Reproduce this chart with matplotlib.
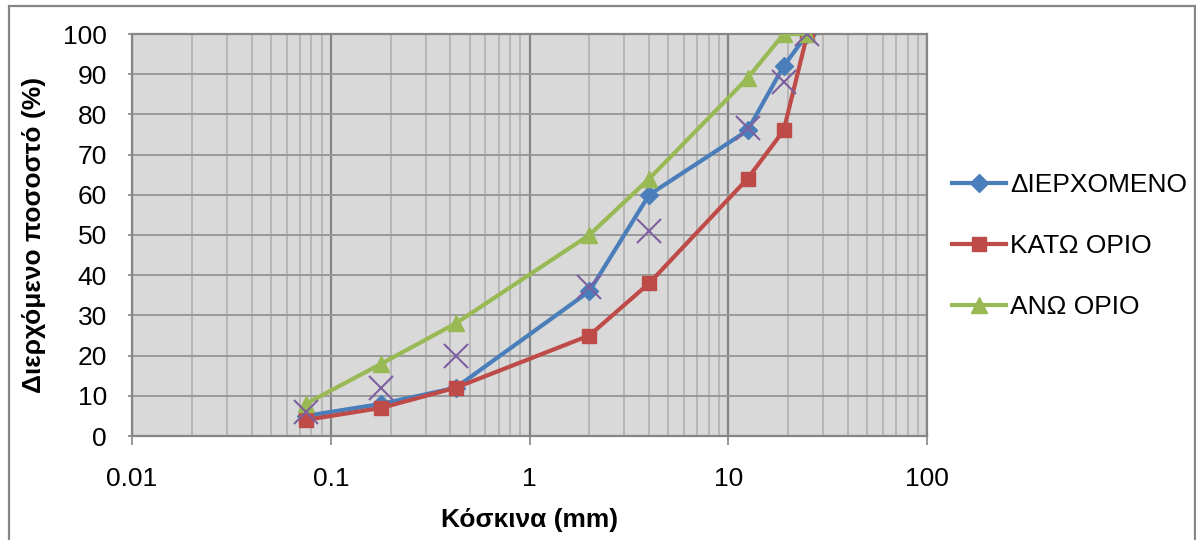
import matplotlib
matplotlib.use('Agg')
import matplotlib.pyplot as plt
from matplotlib.patches import Rectangle
from matplotlib.ticker import LogLocator, FixedLocator, NullFormatter

plt.rcParams['font.family'] = ['Liberation Sans', 'DejaVu Sans']

# sieve sizes (mm)
sieves = [0.075, 0.18, 0.425, 2, 4, 12.5, 19, 25]

# percent passing
passing = [5, 8, 12, 36, 60, 76, 92, 100]
lower_limit = [4, 7, 12, 25, 38, 64, 76, 100]
upper_limit = [8, 18, 28, 50, 64, 89, 100, 100]
# unnamed marker-only series
midline = [6, 12, 20, 37, 51, 76.5, 88, 100]

y_ticks = list(range(0, 101, 10))
x_ticks = [0.01, 0.1, 1, 10, 100]
x_tick_labels = ['0.01', '0.1', '1', '10', '100']

FS = 19

fig = plt.figure(figsize=(11.96, 5.4), dpi=100)
ax = fig.add_axes([132 / 1196, 1 - 436 / 540, (927 - 132) / 1196, (436 - 34) / 540])

ax.set_facecolor('#d9d9d9')

ax.plot(sieves, passing, color='#4a7ebb', lw=3, marker='D', ms=9.5,
        label='ΔΙΕΡΧΟΜΕΝΟ', zorder=3)
ax.plot(sieves, lower_limit, color='#be4b48', lw=3, marker='s', ms=10.5,
        label='ΚΑΤΩ ΟΡΙΟ', zorder=4)
ax.plot(sieves, upper_limit, color='#98b954', lw=3, marker='^', ms=12,
        label='ΑΝΩ ΟΡΙΟ', zorder=5)
ax.plot(sieves, midline, ls='none', marker='x', ms=17, mew=1.5,
        color='#7d60a0', zorder=6)

ax.set_xscale('log')
ax.set_xlim(0.01, 100)
ax.set_ylim(0, 100)

ax.xaxis.set_major_locator(FixedLocator(x_ticks))
ax.set_xticklabels(x_tick_labels)
ax.xaxis.set_minor_locator(LogLocator(base=10, subs=range(2, 10), numticks=20))
ax.xaxis.set_minor_formatter(NullFormatter())
ax.set_yticks(y_ticks)

ax.grid(which='major', axis='y', color='#9a9a9a', lw=1.4, zorder=0)
ax.grid(which='major', axis='x', color='#868686', lw=1.6, zorder=0)
ax.grid(which='minor', axis='x', color='#b4b4b4', lw=1.3, zorder=0)
ax.set_axisbelow(True)

for side in ax.spines:
    ax.spines[side].set_color('#868686')
    ax.spines[side].set_linewidth(1.6)

ax.tick_params(axis='x', which='major', length=6.5, width=1.2, color='#868686',
               pad=16, labelsize=FS)
ax.tick_params(axis='x', which='minor', length=0)
ax.tick_params(axis='y', which='major', length=3, width=1.2, color='#868686',
               pad=15, labelsize=FS)

ax.set_xlabel('Κόσκινα (mm)', fontsize=FS, fontweight='bold', labelpad=12)
ax.set_ylabel('Διερχόμενο ποσοστό (%)', fontsize=FS, fontweight='bold', labelpad=12)

ax.legend(loc='center left', bbox_to_anchor=(952 / 1196, 1 - 246 / 540),
          bbox_transform=fig.transFigure, frameon=False, fontsize=FS,
          handlelength=2.05, handletextpad=0.15, labelspacing=1.4,
          borderpad=0, borderaxespad=0)

# chart border
fig.patches.append(Rectangle((9 / 1196, -0.02), (1195 - 9) / 1196, 1.02 - 6 / 540,
                             transform=fig.transFigure, fill=False,
                             edgecolor='#868686', lw=1.6))

fig.savefig('out.png', dpi=100)
